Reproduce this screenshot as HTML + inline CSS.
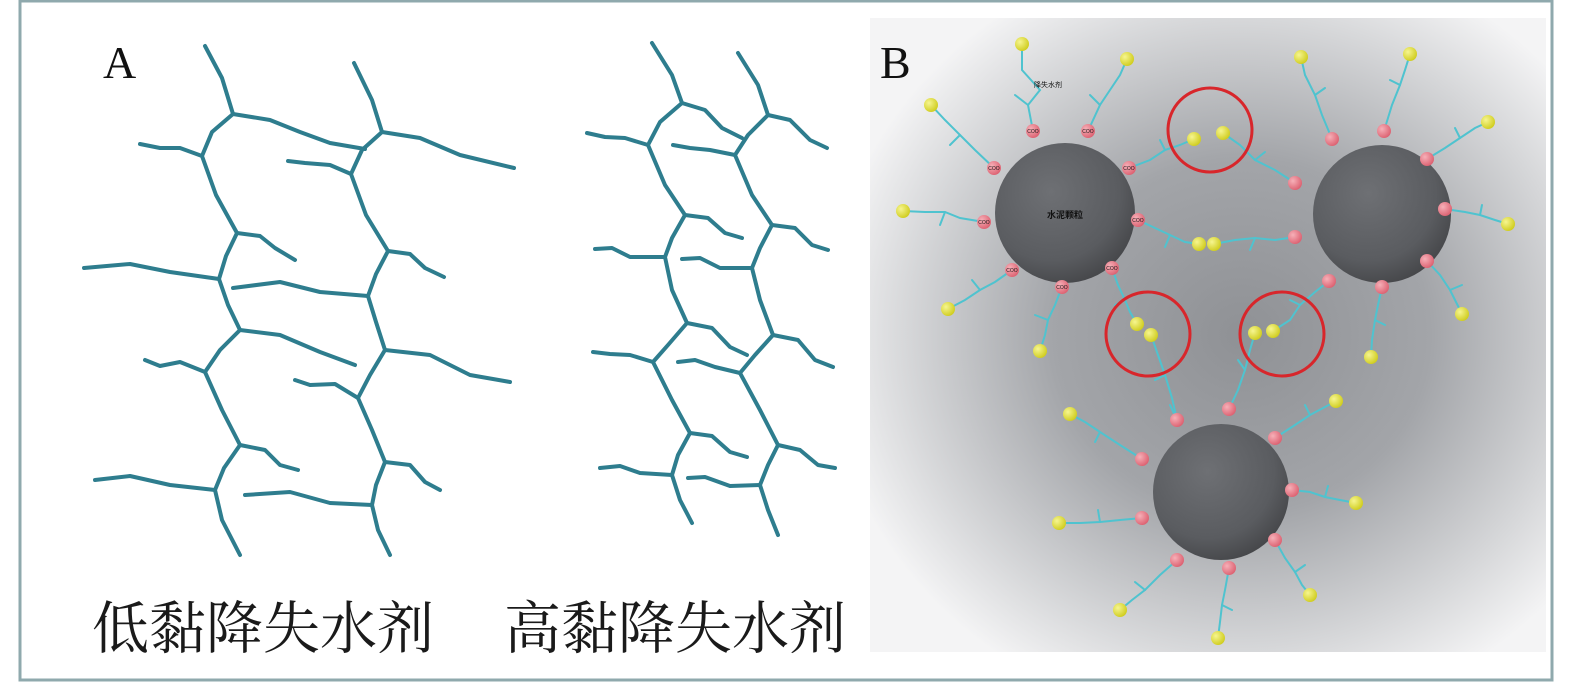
<!DOCTYPE html>
<html><head><meta charset="utf-8"><style>
html,body{margin:0;padding:0;background:#fff;}
body{width:1575px;height:683px;position:relative;overflow:hidden;}
</style></head><body>
<svg width="1575" height="683" viewBox="0 0 1575 683" xmlns="http://www.w3.org/2000/svg">
<defs>
<radialGradient id="bg" cx="0.55" cy="0.5" r="0.62">
<stop offset="0" stop-color="#8f9195"/>
<stop offset="0.45" stop-color="#a3a5a9"/>
<stop offset="0.8" stop-color="#d6d7d9"/>
<stop offset="1" stop-color="#f4f4f5"/>
</radialGradient>
<radialGradient id="sp" cx="0.4" cy="0.35" r="0.7">
<stop offset="0" stop-color="#6e7074"/>
<stop offset="0.7" stop-color="#5a5c60"/>
<stop offset="1" stop-color="#444548"/>
</radialGradient>
<radialGradient id="yl" cx="0.35" cy="0.35" r="0.7"><stop offset="0" stop-color="#f6f590"/><stop offset="1" stop-color="#cfcc1c"/></radialGradient>
<radialGradient id="pk" cx="0.35" cy="0.35" r="0.7"><stop offset="0" stop-color="#f6b0b8"/><stop offset="1" stop-color="#dc6070"/></radialGradient>
</defs>
<rect x="20" y="1" width="1532" height="679" fill="#fff" stroke="#8fa9ad" stroke-width="3"/>
<text x="103" y="78" font-family="Liberation Serif, serif" font-size="46" fill="#111">A</text>

<g fill="none" stroke="#2e7d8e" stroke-width="4" stroke-linecap="round" stroke-linejoin="round">
<!-- left network -->
<polyline points="205,46 222,78 233,114 212,132 202,156 216,195 237,233 226,256 219,279 228,305 240,330 220,350 205,372 222,410 240,445 224,468 215,490 222,520 240,555"/>
<polyline points="233,114 270,120 300,132 330,143 365,149"/>
<polyline points="202,156 180,148 160,148 140,144"/>
<polyline points="237,233 260,236 275,248 295,260"/>
<polyline points="219,279 170,272 130,264 84,268"/>
<polyline points="240,330 280,335 320,352 355,365"/>
<polyline points="205,372 180,362 160,366 145,360"/>
<polyline points="240,445 265,450 280,465 298,470"/>
<polyline points="215,490 170,485 130,476 95,480"/>
<polyline points="354,63 372,100 382,132 362,150 351,174 366,215 388,251 376,274 368,296 376,322 385,350 370,375 358,398 372,430 385,462 376,485 372,505 378,530 390,555"/>
<polyline points="382,132 420,138 460,155 514,168"/>
<polyline points="351,174 330,165 305,163 288,161"/>
<polyline points="388,251 410,254 425,268 444,277"/>
<polyline points="368,296 320,292 280,282 233,288"/>
<polyline points="385,350 430,355 470,375 510,382"/>
<polyline points="358,398 335,384 310,385 295,380"/>
<polyline points="385,462 410,465 425,482 440,490"/>
<polyline points="372,505 330,503 290,492 245,495"/>
<!-- right network -->
<polyline points="652,43 672,75 682,103 660,122 648,145 665,185 685,215 672,238 665,257 672,290 687,323 668,345 653,362 672,400 690,433 678,455 672,475 680,500 692,523"/>
<polyline points="682,103 705,110 722,128 742,138"/>
<polyline points="648,145 625,138 605,137 587,133"/>
<polyline points="685,215 708,218 725,233 742,238"/>
<polyline points="665,257 630,257 612,248 595,249"/>
<polyline points="687,323 712,328 730,347 747,355"/>
<polyline points="653,362 630,355 610,354 593,352"/>
<polyline points="690,433 712,436 730,452 747,457"/>
<polyline points="672,475 640,473 620,466 600,468"/>
<polyline points="738,53 758,85 768,115 748,135 735,155 752,195 772,225 760,248 752,268 760,300 773,335 755,355 740,373 760,410 778,445 768,465 760,485 768,510 778,535"/>
<polyline points="768,115 790,120 810,140 827,148"/>
<polyline points="735,155 710,150 690,148 673,145"/>
<polyline points="772,225 795,228 812,245 828,250"/>
<polyline points="752,268 720,268 700,258 682,259"/>
<polyline points="773,335 798,340 815,360 833,367"/>
<polyline points="740,373 715,367 695,360 678,362"/>
<polyline points="778,445 800,450 818,465 835,468"/>
<polyline points="760,485 730,486 705,477 688,478"/>
</g>
<text x="92" y="648" font-family="Liberation Serif, 'Noto Serif CJK SC', serif" font-size="57" fill="#1a1a1a">低黏降失水剂</text>
<text x="504" y="648" font-family="Liberation Serif, 'Noto Serif CJK SC', serif" font-size="57" fill="#1a1a1a">高黏降失水剂</text>

<!-- panel B -->
<rect x="870" y="18" width="676" height="634" fill="url(#bg)"/>
<text x="880" y="78" font-family="Liberation Serif, serif" font-size="46" fill="#111">B</text>

<g fill="none" stroke="#4fc3cf" stroke-width="2" stroke-linecap="round">
<!-- sphere1 chains -->
<polyline points="1033,131 1028,105 1040,90 1022,70 1022,44"/><polyline points="1028,105 1015,95 M1040,90 1050,80"/>
<polyline points="1088,131 1100,105 1110,90 1120,75 1127,59"/><polyline points="1100,105 1090,95 M1110,90 1122,95"/>
<polyline points="994,168 975,150 960,135 945,120 931,105"/><polyline points="960,135 950,145 M975,150 985,140"/>
<polyline points="984,222 960,218 945,212 925,212 903,211"/><polyline points="945,212 940,225 M960,218 965,205"/>
<polyline points="1012,270 995,282 980,290 965,300 948,309"/><polyline points="980,290 972,280 M995,282 1000,295"/>
<polyline points="1062,287 1055,305 1048,320 1045,335 1040,351"/><polyline points="1048,320 1035,315 M1055,305 1065,315"/>
<!-- central -->
<polyline points="1129,168 1150,160 1165,150 1180,145 1194,139"/><polyline points="1165,150 1160,140 M1150,160 1155,170"/>
<polyline points="1223,133 1240,145 1255,160 1275,170 1295,183"/><polyline points="1255,160 1265,152 M1275,170 1270,180"/>
<polyline points="1138,220 1155,228 1170,235 1185,242 1199,244"/><polyline points="1170,235 1165,247 M1155,228 1160,218"/>
<polyline points="1214,244 1235,240 1255,238 1275,240 1295,237"/><polyline points="1255,238 1250,250 M1275,240 1280,228"/>
<polyline points="1112,268 1118,285 1125,300 1130,312 1137,324"/><polyline points="1125,300 1115,305"/>
<polyline points="1151,335 1158,355 1165,375 1172,398 1177,420"/><polyline points="1165,375 1155,380 M1172,398 1180,392"/>
<polyline points="1255,333 1250,350 1245,370 1238,390 1229,409"/><polyline points="1245,370 1238,360 M1238,390 1248,395"/>
<polyline points="1273,331 1290,320 1300,305 1315,292 1329,281"/><polyline points="1300,305 1290,300 M1315,292 1318,305"/>
<!-- sphere2 -->
<polyline points="1332,139 1322,115 1315,95 1305,75 1301,57"/><polyline points="1315,95 1325,88 M1305,75 1295,80"/>
<polyline points="1384,131 1392,105 1400,85 1405,70 1410,54"/><polyline points="1400,85 1390,80 M1392,105 1402,110"/>
<polyline points="1427,159 1445,148 1460,138 1475,128 1488,122"/><polyline points="1460,138 1455,128 M1445,148 1450,160"/>
<polyline points="1445,209 1465,212 1480,215 1495,220 1508,224"/><polyline points="1480,215 1482,205 M1465,212 1462,222"/>
<polyline points="1427,261 1440,275 1450,290 1455,300 1462,314"/><polyline points="1450,290 1462,285 M1440,275 1430,282"/>
<polyline points="1382,287 1378,305 1375,320 1372,340 1371,357"/><polyline points="1375,320 1385,325 M1378,305 1368,300"/>
<!-- sphere3 -->
<polyline points="1142,459 1120,445 1100,432 1085,422 1070,414"/><polyline points="1100,432 1095,442 M1120,445 1125,435"/>
<polyline points="1275,438 1295,425 1310,415 1325,407 1336,401"/><polyline points="1310,415 1305,405 M1295,425 1300,435"/>
<polyline points="1142,518 1120,520 1100,522 1080,523 1059,523"/><polyline points="1100,522 1098,510 M1120,520 1122,532"/>
<polyline points="1292,490 1310,492 1325,497 1340,500 1356,503"/><polyline points="1325,497 1328,486 M1310,492 1308,503"/>
<polyline points="1177,560 1160,575 1145,590 1132,600 1120,610"/><polyline points="1145,590 1135,582 M1160,575 1165,588"/>
<polyline points="1275,540 1285,558 1295,572 1302,585 1310,595"/><polyline points="1295,572 1305,565 M1285,558 1276,565"/>
<polyline points="1229,568 1225,590 1222,605 1220,622 1218,638"/><polyline points="1222,605 1232,610 M1225,590 1215,585"/>
<polyline points="1177,420 1170,405 M1142,459 1140,455"/>
</g>

<!-- spheres -->
<circle cx="1065" cy="213" r="70" fill="url(#sp)"/>
<circle cx="1382" cy="214" r="69" fill="url(#sp)"/>
<circle cx="1221" cy="492" r="68" fill="url(#sp)"/>
<text x="1065" y="218" font-family="Liberation Sans,'Noto Sans CJK SC',sans-serif" font-size="9" font-weight="bold" text-anchor="middle" fill="#111">水泥颗粒</text>
<text x="1048" y="87" font-family="Liberation Sans,'Noto Sans CJK SC',sans-serif" font-size="7" text-anchor="middle" fill="#111">降失水剂</text>

<!-- pink balls -->
<g fill="url(#pk)">
<circle cx="1033" cy="131" r="7"/><circle cx="1088" cy="131" r="7"/><circle cx="994" cy="168" r="7"/>
<circle cx="984" cy="222" r="7"/><circle cx="1012" cy="270" r="7"/><circle cx="1062" cy="287" r="7"/>
<circle cx="1129" cy="168" r="7"/><circle cx="1138" cy="220" r="7"/><circle cx="1112" cy="268" r="7"/>
<circle cx="1332" cy="139" r="7"/><circle cx="1384" cy="131" r="7"/><circle cx="1427" cy="159" r="7"/>
<circle cx="1445" cy="209" r="7"/><circle cx="1427" cy="261" r="7"/><circle cx="1382" cy="287" r="7"/>
<circle cx="1329" cy="281" r="7"/><circle cx="1295" cy="237" r="7"/><circle cx="1295" cy="183" r="7"/>
<circle cx="1177" cy="420" r="7"/><circle cx="1229" cy="409" r="7"/><circle cx="1275" cy="438" r="7"/>
<circle cx="1292" cy="490" r="7"/><circle cx="1275" cy="540" r="7"/><circle cx="1229" cy="568" r="7"/>
<circle cx="1177" cy="560" r="7"/><circle cx="1142" cy="518" r="7"/><circle cx="1142" cy="459" r="7"/>
</g>
<g font-family="Liberation Sans,sans-serif" font-size="5" fill="#111" text-anchor="middle">
<text x="1033" y="133">COO</text><text x="1088" y="133">COO</text><text x="994" y="170">COO</text><text x="984" y="224">COO</text>
<text x="1012" y="272">COO</text><text x="1062" y="289">COO</text><text x="1129" y="170">COO</text><text x="1138" y="222">COO</text><text x="1112" y="270">COO</text>
</g>

<!-- yellow balls -->
<g fill="url(#yl)">
<circle cx="1022" cy="44" r="7"/><circle cx="1127" cy="59" r="7"/><circle cx="931" cy="105" r="7"/>
<circle cx="903" cy="211" r="7"/><circle cx="948" cy="309" r="7"/><circle cx="1040" cy="351" r="7"/>
<circle cx="1194" cy="139" r="7"/><circle cx="1223" cy="133" r="7"/><circle cx="1199" cy="244" r="7"/>
<circle cx="1214" cy="244" r="7"/><circle cx="1137" cy="324" r="7"/><circle cx="1151" cy="335" r="7"/>
<circle cx="1255" cy="333" r="7"/><circle cx="1273" cy="331" r="7"/>
<circle cx="1301" cy="57" r="7"/><circle cx="1410" cy="54" r="7"/><circle cx="1488" cy="122" r="7"/>
<circle cx="1508" cy="224" r="7"/><circle cx="1462" cy="314" r="7"/><circle cx="1371" cy="357" r="7"/>
<circle cx="1070" cy="414" r="7"/><circle cx="1336" cy="401" r="7"/><circle cx="1059" cy="523" r="7"/>
<circle cx="1356" cy="503" r="7"/><circle cx="1120" cy="610" r="7"/><circle cx="1310" cy="595" r="7"/>
<circle cx="1218" cy="638" r="7"/>
</g>

<!-- red circles -->
<g fill="none" stroke="#d8262b" stroke-width="3">
<circle cx="1210" cy="130" r="42"/>
<circle cx="1148" cy="334" r="42"/>
<circle cx="1282" cy="334" r="42"/>
</g>
</svg>
</body></html>
